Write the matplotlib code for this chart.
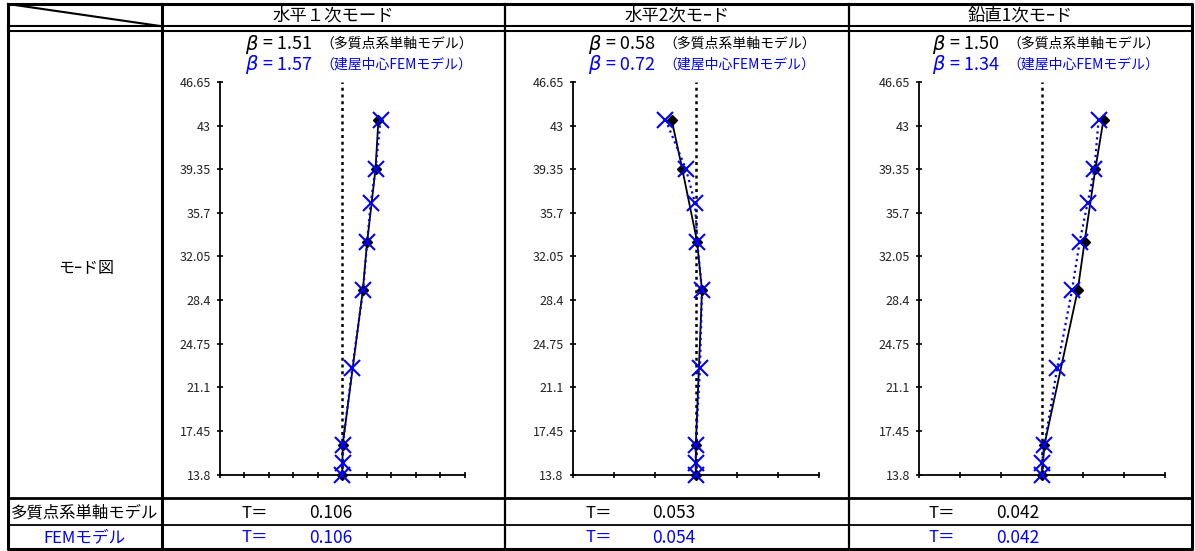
import matplotlib.pyplot as plt
import numpy as np

plt.rcParams['font.family'] = ['Noto Sans CJK JP', 'DejaVu Sans']

W, H = 1195, 551
BLUE = '#0000ff'

# --- data ---
mode_titles = ['水平１次モード', '水平2次モｰド', '鉛直1次モｰド']
beta_single = ['1.51', '0.58', '1.50']
beta_fem = ['1.57', '0.72', '1.34']
period_single = ['0.106', '0.053', '0.042']
period_fem = ['0.106', '0.054', '0.042']

yticks = [13.8, 17.45, 21.1, 24.75, 28.4, 32.05, 35.7, 39.35, 43, 46.65]
height_single = [43.5, 39.35, 33.3, 29.2, 16.3, 13.8]
height_fem = [43.5, 39.35, 36.5, 33.3, 29.2, 22.7, 16.3, 14.8, 13.8]

h1_single = [0.148, 0.136, 0.102, 0.084, 0.002, 0.0]
h1_fem = [0.157, 0.136, 0.116, 0.102, 0.085, 0.041, 0.002, 0.002, 0.0]
h2_single = [-0.059, -0.033, 0.003, 0.015, 0.0, 0.0]
h2_fem = [-0.074, -0.024, -0.002, 0.003, 0.015, 0.010, 0.0, 0.0, 0.0]
v1_single = [0.150, 0.130, 0.104, 0.087, 0.006, 0.0]
v1_fem = [0.138, 0.128, 0.111, 0.092, 0.073, 0.037, 0.006, 0.0, 0.0]

singles = [h1_single, h2_single, v1_single]
fems = [h1_fem, h2_fem, v1_fem]
xlims = [0.5, 0.3, 0.3]
nticks = [11, 7, 7]

# layout in pixels
col_edges = [162, 505.5, 849, 1192]
ax_lr = [(220, 464.5), (572.7, 819), (919, 1165)]
ax_top, ax_bot = 82, 474.5

fig = plt.figure(figsize=(W / 100, H / 100), dpi=100)

bg = fig.add_axes([0, 0, 1, 1])
bg.set_xlim(0, W)
bg.set_ylim(H, 0)
bg.axis('off')

# table grid
bg.plot([8, 1192, 1192, 8, 8], [4, 4, 549, 549, 4], color='k', lw=2.2)
bg.plot([8, 1192], [26, 26], color='k', lw=1.5)
bg.plot([8, 1192], [30.5, 30.5], color='k', lw=1.5)
bg.plot([8, 1192], [498, 498], color='k', lw=2.0)
bg.plot([8, 1192], [525, 525], color='k', lw=1.3)
bg.plot([162, 162], [4, 549], color='k', lw=2.2)
for xe in col_edges[1:3]:
    bg.plot([xe, xe], [4, 549], color='k', lw=1.6)
bg.plot([8, 160], [4, 26], color='k', lw=1.5)

bg.text(86, 268, 'モｰド図', ha='center', va='center', fontsize=11.5)
bg.text(85, 513, '多質点系単軸モデル', ha='center', va='center', fontsize=11.8)
bg.text(84, 538, 'FEMモデル', ha='center', va='center', fontsize=12, color=BLUE)

for i in range(3):
    cl, cr = col_edges[i], col_edges[i + 1]
    bg.text((cl + cr) / 2, 15, mode_titles[i], ha='center', va='center', fontsize=12.5)
    for y, b, c, tag in [(44, beta_single[i], 'k', '（多質点系単軸モデル）'),
                         (65, beta_fem[i], BLUE, '（建屋中心FEMモデル）')]:
        bg.text(cl + 83, y, r'$\beta$', ha='left', va='center', fontsize=14, color=c)
        bg.text(cl + 101, y, '= ' + b, ha='left', va='center', fontsize=13, color=c)
        bg.text(cl + 158, y, tag, ha='left', va='center', fontsize=10, color=c)
    for y, t, c in [(513, period_single[i], 'k'), (538, period_fem[i], BLUE)]:
        bg.text(cl + 80, y, 'T＝', ha='left', va='center', fontsize=12, color=c)
        bg.text(cl + 147, y, t, ha='left', va='center', fontsize=12.5, color=c)

    # mode shape panel
    l, r = ax_lr[i]
    ax = fig.add_axes([l / W, 1 - ax_bot / H, (r - l) / W, (ax_bot - ax_top) / H])
    ax.set_facecolor('none')
    lim = xlims[i]
    ax.set_xlim(-lim, lim)
    ax.set_ylim(13.8, 46.65)
    ax.axvline(0, color='k', ls=(0, (1.2, 1.5)), lw=1.8, zorder=1)
    ax.plot(singles[i], height_single, '-', color='k', lw=1.3, marker='D', ms=5.5,
            zorder=3, clip_on=False)
    ax.plot(fems[i], height_fem, ':', color=BLUE, lw=1.6, marker='x', ms=11, mew=1.5,
            zorder=4, clip_on=False)
    ax.set_xticks(np.linspace(-lim, lim, nticks[i]))
    ax.set_xticklabels([])
    ax.set_yticks(yticks)
    ax.set_yticklabels([f'{v:g}' for v in yticks], fontsize=9, color='#222222')
    for s in ['top', 'right']:
        ax.spines[s].set_visible(False)
    for s in ['left', 'bottom']:
        ax.spines[s].set_linewidth(1.3)
    ax.tick_params(direction='inout', length=5, width=1.2, pad=4)

fig.savefig('out.png', dpi=100)
